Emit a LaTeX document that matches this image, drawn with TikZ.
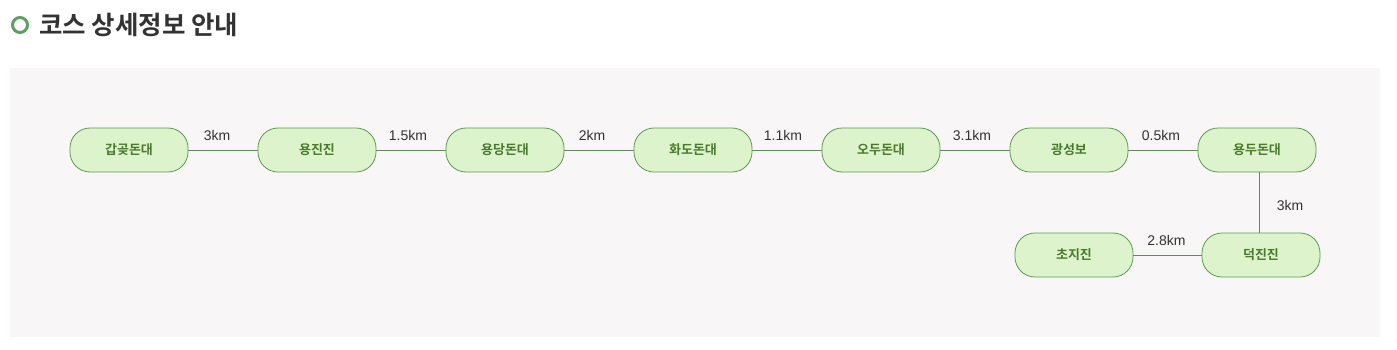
\documentclass[tikz,border=0pt]{standalone}
\usepackage{fontspec}
\setmainfont{Noto Sans CJK KR}[BoldFont={Noto Sans CJK KR Bold}]
\newfontfamily\labfont{Liberation Sans}
\usetikzlibrary{calc}
\definecolor{panelbg}{HTML}{F8F6F7}
\definecolor{nodefill}{HTML}{DDF3CB}
\definecolor{nodeedge}{HTML}{5E9A55}
\definecolor{nodetext}{HTML}{4A7A2C}
\definecolor{linkcol}{HTML}{5E8A55}
\definecolor{labcol}{HTML}{333333}
\definecolor{titlecol}{HTML}{333333}
\definecolor{ringcol}{HTML}{5E9E62}
\tikzset{
  stop/.style={draw=nodeedge, fill=nodefill, rounded corners=20pt, minimum width=118pt, minimum height=44pt, inner sep=0pt, text=nodetext, font=\fontsize{13pt}{15pt}\selectfont\bfseries, line width=0.8pt},
  link/.style={draw=linkcol, line width=0.8pt},
  dist/.style={text=labcol, font=\labfont\fontsize{14pt}{16pt}\selectfont, inner sep=1pt, anchor=center}
}
\begin{document}
\begin{tikzpicture}[x=1pt,y=-1pt]
\useasboundingbox (0,0) rectangle (1397,350);
\fill[white] (0,0) rectangle (1397,350);
\fill[panelbg] (10,68) rectangle (1380,337);
% title
\draw[ringcol, line width=3pt] (20,25) circle (7.5pt);
\node[anchor=west, text=titlecol, font=\fontsize{25.5pt}{30pt}\selectfont\bfseries, inner sep=0pt] (title) at (39,25) {코스 상세정보 안내};
% nodes
\node[stop] (n1) at (129,150) {갑곶돈대};
\node[stop] (n2) at (317,150) {용진진};
\node[stop] (n3) at (505,150) {용당돈대};
\node[stop] (n4) at (693,150) {화도돈대};
\node[stop] (n5) at (881,150) {오두돈대};
\node[stop] (n6) at (1069,150) {광성보};
\node[stop] (n7) at (1257,150) {용두돈대};
\node[stop] (n8) at (1074,255) {초지진};
\node[stop] (n9) at (1261,255) {덕진진};
% links
\draw[link] (n1) -- node[dist, yshift=15pt, xshift=-6pt] {3km} (n2);
\draw[link] (n2) -- node[dist, yshift=15pt, xshift=-3pt] {1.5km} (n3);
\draw[link] (n3) -- node[dist, yshift=15pt, xshift=-7pt] {2km} (n4);
\draw[link] (n4) -- node[dist, yshift=15pt, xshift=-4pt] {1.1km} (n5);
\draw[link] (n5) -- node[dist, yshift=15pt, xshift=-3pt] {3.1km} (n6);
\draw[link] (n6) -- node[dist, yshift=15pt, xshift=-2pt] {0.5km} (n7);
\draw[link] ($(n7.south)+(2,0)$) -- node[dist, xshift=31pt, yshift=-3pt] {3km} ($(n9.north)+(-2,0)$);
\draw[link] (n9) -- node[dist, yshift=15pt, xshift=-1pt] {2.8km} (n8);
\end{tikzpicture}
\end{document}
